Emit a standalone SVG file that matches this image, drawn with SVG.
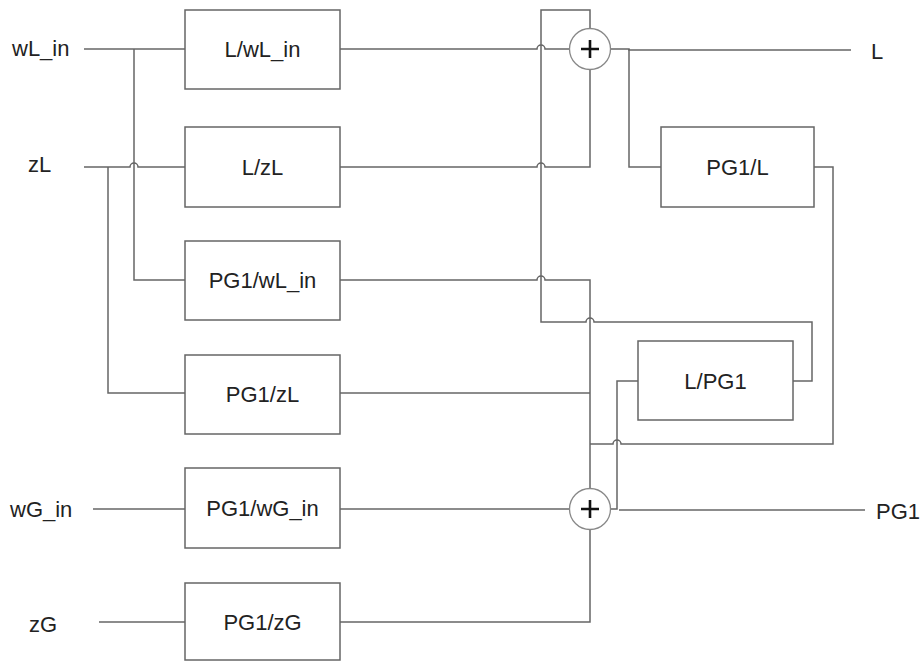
<svg xmlns="http://www.w3.org/2000/svg" width="920" height="661" viewBox="0 0 920 661">
<style>
.box{fill:#fff;stroke:#666;stroke-width:1.5}
.w{fill:none;stroke:#666;stroke-width:1.5}
.sum{fill:#fff;stroke:#888;stroke-width:1.3}
.plus{stroke:#111;stroke-width:2.6}
text{font-family:"Liberation Sans",Arial,sans-serif;font-size:22px;fill:#222}
.c{text-anchor:middle}
</style>
<rect width="920" height="661" fill="#fff"/>
<g id="connectors">
<path class="w" d="M84,49 H185"/>
<path class="w" d="M134,49 V280 H185"/>
<path class="w" d="M84,167 H130 a4,4 0 0 1 8,0 H185"/>
<path class="w" d="M108,167 V393 H185"/>
<path class="w" d="M93,509 H185"/>
<path class="w" d="M99,622 H185"/>
<path class="w" d="M340,49 H537 a4,4 0 0 1 8,0 H569.5"/>
<path class="w" d="M340,167 H537 a4,4 0 0 1 8,0 H590 V69.5"/>
<path class="w" d="M340,280 H537 a4,4 0 0 1 8,0 H590 V488.5"/>
<path class="w" d="M340,393 H590"/>
<path class="w" d="M340,509 H569.5"/>
<path class="w" d="M340,622 H590 V529.5"/>
<path class="w" d="M610.5,49 H629 V50 H851"/>
<path class="w" d="M629,49 V167 H661"/>
<path class="w" d="M590,28.5 V10 H541 V322 H586 a4,4 0 0 1 8,0 H812 V381 H793"/>
<path class="w" d="M814,167 H833 V444 H621 a4,4 0 0 0 -8,0 H590"/>
<path class="w" d="M610.5,509 H617 V381 H638"/>
<path class="w" d="M619,510 H865"/>
</g>
<g id="n-l-wl-in"><rect class="box" x="185" y="10" width="155" height="79"/><text class="c" x="262.5" y="57">L/wL_in</text></g>
<g id="n-l-zl"><rect class="box" x="185" y="127" width="155" height="80"/><text class="c" x="262.5" y="175">L/zL</text></g>
<g id="n-pg1-wl-in"><rect class="box" x="185" y="241" width="155" height="79"/><text class="c" x="262.5" y="288">PG1/wL_in</text></g>
<g id="n-pg1-zl"><rect class="box" x="185" y="355" width="155" height="79"/><text class="c" x="262.5" y="402">PG1/zL</text></g>
<g id="n-pg1-wg-in"><rect class="box" x="185" y="468" width="155" height="80"/><text class="c" x="262.5" y="516">PG1/wG_in</text></g>
<g id="n-pg1-zg"><rect class="box" x="185" y="583" width="155" height="77"/><text class="c" x="262.5" y="630">PG1/zG</text></g>
<g id="n-pg1-l"><rect class="box" x="661" y="127" width="153" height="80"/><text class="c" x="737.5" y="175">PG1/L</text></g>
<g id="n-l-pg1"><rect class="box" x="638" y="341" width="155" height="79"/><text class="c" x="715.5" y="389">L/PG1</text></g>
<g id="sum1"><circle class="sum" cx="590" cy="49" r="20.5"/><path class="plus" d="M581,49 H599 M590,40 V58"/></g>
<g id="sum2"><circle class="sum" cx="590" cy="509" r="20.5"/><path class="plus" d="M581,509 H599 M590,500 V518"/></g>
<g id="in-wl-in"><text x="12" y="56">wL_in</text></g>
<g id="in-zl"><text x="28" y="172">zL</text></g>
<g id="in-wg-in"><text x="10" y="517">wG_in</text></g>
<g id="in-zg"><text x="29" y="632">zG</text></g>
<g id="out-l"><text x="871" y="59">L</text></g>
<g id="out-pg1"><text x="876" y="519">PG1</text></g>
</svg>
